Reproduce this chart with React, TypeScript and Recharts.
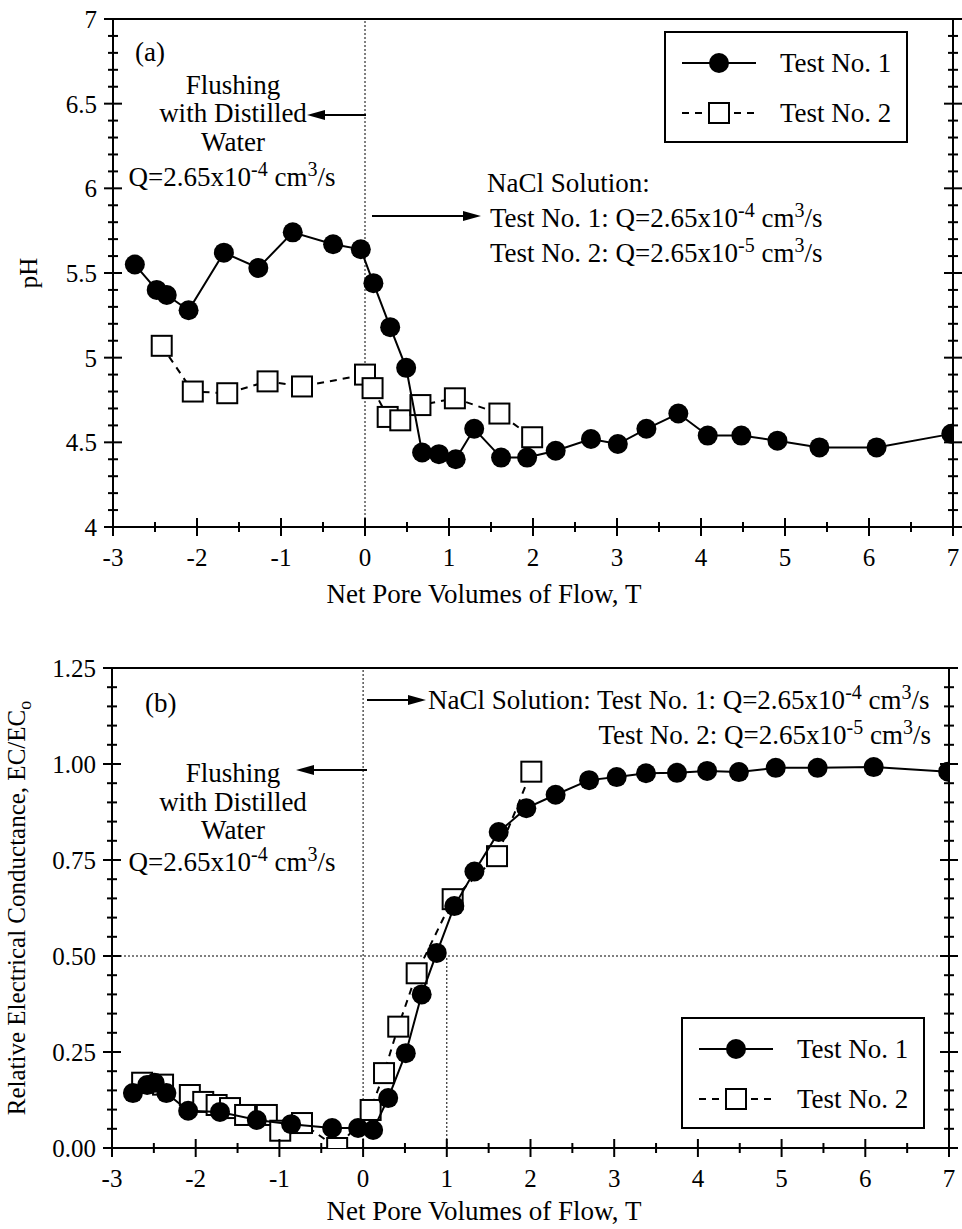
import React from "react";
import { ScatterChart, Scatter, XAxis, YAxis, ReferenceLine } from "recharts";

const FONT = '"Liberation Serif", "Times New Roman", Times, serif';

// shared x axis ticks (net pore volumes)
const xTicks = [-3, -2.5, -2, -1.5, -1, -0.5, 0, 0.5, 1, 1.5, 2, 2.5, 3, 3.5, 4, 4.5, 5, 5.5, 6, 6.5, 7];
const xMajor = [-3, -2, -1, 0, 1, 2, 3, 4, 5, 6, 7];

// (a) pH axis
const phTicks = [4, 4.1, 4.2, 4.3, 4.4, 4.5, 4.6, 4.7, 4.8, 4.9, 5, 5.1, 5.2, 5.3, 5.4, 5.5, 5.6, 5.7, 5.8, 5.9, 6, 6.1, 6.2, 6.3, 6.4, 6.5, 6.6, 6.7, 6.8, 6.9, 7];
const phMajor = [4, 4.5, 5, 5.5, 6, 6.5, 7];

// (b) EC/ECo axis
const ecTicks = [0, 0.05, 0.1, 0.15, 0.2, 0.25, 0.3, 0.35, 0.4, 0.45, 0.5, 0.55, 0.6, 0.65, 0.7, 0.75, 0.8, 0.85, 0.9, 0.95, 1, 1.05, 1.1, 1.15, 1.2, 1.25];
const ecMajor = [0, 0.25, 0.5, 0.75, 1, 1.25];

// (a) Test No. 1
const phT1x = [-2.74, -2.48, -2.36, -2.1, -1.68, -1.27, -0.86, -0.38, -0.05, 0.1, 0.3, 0.49, 0.68, 0.88, 1.08, 1.3, 1.62, 1.93, 2.27, 2.69, 3.01, 3.35, 3.73, 4.08, 4.48, 4.91, 5.41, 6.09, 6.98];
const phT1y = [5.55, 5.4, 5.37, 5.28, 5.62, 5.53, 5.74, 5.67, 5.64, 5.44, 5.18, 4.94, 4.44, 4.43, 4.4, 4.58, 4.41, 4.41, 4.45, 4.52, 4.49, 4.58, 4.67, 4.54, 4.54, 4.51, 4.47, 4.47, 4.55];
// (a) Test No. 2
const phT2x = [-2.42, -2.05, -1.64, -1.16, -0.75, 0.0, 0.09, 0.27, 0.42, 0.66, 1.07, 1.6, 1.99];
const phT2y = [5.07, 4.8, 4.79, 4.86, 4.83, 4.9, 4.82, 4.65, 4.63, 4.72, 4.76, 4.67, 4.53];

// (b) Test No. 1
const ecT1x = [-2.75, -2.58, -2.49, -2.35, -2.09, -1.71, -1.27, -0.86, -0.37, -0.06, 0.12, 0.3, 0.51, 0.7, 0.88, 1.09, 1.33, 1.62, 1.95, 2.3, 2.7, 3.03, 3.38, 3.75, 4.11, 4.49, 4.93, 5.43, 6.1, 6.99];
const ecT1y = [0.143, 0.164, 0.17, 0.143, 0.097, 0.094, 0.073, 0.062, 0.052, 0.052, 0.047, 0.13, 0.247, 0.4, 0.508, 0.63, 0.72, 0.823, 0.885, 0.92, 0.958, 0.966, 0.976, 0.977, 0.982, 0.979, 0.99, 0.99, 0.992, 0.98];
// (b) Test No. 2
const ecT2x = [-2.64, -2.39, -2.07, -1.91, -1.75, -1.59, -1.41, -1.15, -0.99, -0.73, -0.31, 0.09, 0.25, 0.42, 0.64, 1.07, 1.6, 2.01];
const ecT2y = [0.17, 0.165, 0.138, 0.12, 0.112, 0.104, 0.086, 0.086, 0.045, 0.065, 0.0, 0.099, 0.195, 0.316, 0.455, 0.648, 0.76, 0.98];

const pts = (xs: number[], ys: number[]) => xs.map((x, i) => ({ x, y: ys[i] }));

const isMajor = (v: number, majors: number[]) => majors.some((m) => Math.abs(m - v) < 1e-6);

const Dot = (p: any) => <circle cx={p.cx} cy={p.cy} r={10} fill="#000" />;
const Square = (p: any) => (
  <rect x={p.cx - 10} y={p.cy - 10} width={20} height={20} fill="#fff" stroke="#000" strokeWidth={2} />
);

const XTick = (props: any) => {
  const { x, y, payload } = props;
  const v = payload.value;
  const major = isMajor(v, xMajor);
  const h = major ? 9 : 5;
  return (
    <g>
      <line x1={x} x2={x} y1={y - h} y2={y + h} stroke="#000" strokeWidth={2} />
      {major && (
        <text x={x} y={y + 39} textAnchor="middle" fontSize={25} fontFamily={FONT} fill="#000">
          {v}
        </text>
      )}
    </g>
  );
};

const makeYTick = (majors: number[], fmt: (v: number) => string, showLabel: boolean) => (props: any) => {
  const { x, y, payload } = props;
  const v = payload.value;
  const major = isMajor(v, majors);
  const h = major ? 9 : 5;
  return (
    <g>
      <line x1={x - h} x2={x + h} y1={y} y2={y} stroke="#000" strokeWidth={2} />
      {showLabel && major && (
        <text x={x - 16} y={y + 9} textAnchor="end" fontSize={25} fontFamily={FONT} fill="#000">
          {fmt(v)}
        </text>
      )}
    </g>
  );
};

const axisLine = { stroke: "#000", strokeWidth: 2 };
const dotted = { stroke: "#000", strokeWidth: 1, strokeDasharray: "2 2" };

function Panel({
  height, top, plotH, left, right, yTicks, yMajor, yDomain, fmt, t1, t2, children,
}: any) {
  return (
    <ScatterChart width={962} height={height} margin={{ top, right: 0, bottom: 0, left: 0 }}>
      <XAxis
        type="number"
        dataKey="x"
        domain={[-3, 7]}
        ticks={xTicks}
        interval={0}
        tickLine={false}
        tickSize={0}
        tickMargin={0}
        axisLine={axisLine}
        tick={XTick}
        height={height - top - plotH}
        allowDataOverflow
      />
      <YAxis
        type="number"
        dataKey="y"
        domain={yDomain}
        ticks={yTicks}
        interval={0}
        tickLine={false}
        tickSize={0}
        tickMargin={0}
        axisLine={axisLine}
        tick={makeYTick(yMajor, fmt, true)}
        width={left}
        allowDataOverflow
      />
      <YAxis
        yAxisId="r"
        orientation="right"
        type="number"
        domain={yDomain}
        ticks={yTicks}
        interval={0}
        tickLine={false}
        tickSize={0}
        tickMargin={0}
        axisLine={axisLine}
        tick={makeYTick(yMajor, fmt, false)}
        width={right}
        allowDataOverflow
      />
      <ReferenceLine y={yDomain[1]} stroke="#000" strokeWidth={2} />
      <ReferenceLine x={0} {...dotted} />
      {children}
      <Scatter
        data={t2}
        shape={Square}
        line={{ stroke: "#000", strokeWidth: 2, strokeDasharray: "7 6" }}
        lineJointType="linear"
        isAnimationActive={false}
      />
      <Scatter
        data={t1}
        shape={Dot}
        line={{ stroke: "#000", strokeWidth: 2 }}
        lineJointType="linear"
        isAnimationActive={false}
      />
    </ScatterChart>
  );
}

const Q = ({ exp }: { exp: string }) => (
  <>
    Q=2.65x10
    <tspan dy={-10} fontSize={20}>{exp}</tspan>
    <tspan dy={10}> cm</tspan>
    <tspan dy={-10} fontSize={20}>3</tspan>
    <tspan dy={10}>/s</tspan>
  </>
);

function Legend({ x, y }: { x: number; y: number }) {
  return (
    <g>
      <rect x={x} y={y} width={242} height={110} fill="#fff" stroke="#000" strokeWidth={2} />
      <line x1={x + 17} x2={x + 91} y1={y + 31} y2={y + 31} stroke="#000" strokeWidth={2} />
      <circle cx={x + 54} cy={y + 31} r={10} fill="#000" />
      <text x={x + 115} y={y + 40} fontSize={27}>Test No. 1</text>
      <line x1={x + 17} x2={x + 91} y1={y + 81} y2={y + 81} stroke="#000" strokeWidth={2} strokeDasharray="7 6" />
      <rect x={x + 44} y={y + 71} width={20} height={20} fill="#fff" stroke="#000" strokeWidth={2} />
      <text x={x + 115} y={y + 90} fontSize={27}>Test No. 2</text>
    </g>
  );
}

export default function App() {
  return (
    <div style={{ position: "absolute", left: 0, top: 0, width: 962, height: 1229, background: "#fff" }}>
      <div style={{ position: "absolute", left: 0, top: 0 }}>
        <Panel
          height={620}
          top={19}
          plotH={508}
          left={113}
          right={9}
          yTicks={phTicks}
          yMajor={phMajor}
          yDomain={[4, 7]}
          fmt={(v: number) => String(v)}
          t1={pts(phT1x, phT1y)}
          t2={pts(phT2x, phT2y)}
        />
      </div>
      <div style={{ position: "absolute", left: 0, top: 620 }}>
        <Panel
          height={609}
          top={48}
          plotH={480}
          left={112}
          right={13}
          yTicks={ecTicks}
          yMajor={ecMajor}
          yDomain={[0, 1.25]}
          fmt={(v: number) => v.toFixed(2)}
          t1={pts(ecT1x, ecT1y)}
          t2={pts(ecT2x, ecT2y)}
        >
          <ReferenceLine y={0.5} {...dotted} />
          <ReferenceLine segment={[{ x: 1, y: 0 }, { x: 1, y: 0.5 }]} {...dotted} />
        </Panel>
      </div>
      <svg
        width={962}
        height={1229}
        style={{ position: "absolute", left: 0, top: 0, pointerEvents: "none" }}
        fontFamily={FONT}
        fill="#000"
      >
        {/* panel (a) */}
        <text x={135} y={61} fontSize={27}>(a)</text>
        <text textAnchor="middle" fontSize={27}>
          <tspan x={233} y={94}>Flushing</tspan>
          <tspan x={233} y={122}>with Distilled</tspan>
          <tspan x={233} y={151}>Water</tspan>
        </text>
        <text x={232} y={186} textAnchor="middle" fontSize={27}><Q exp="-4" /></text>
        <line x1={366} x2={318} y1={115} y2={115} stroke="#000" strokeWidth={2} />
        <polygon points="307,115 325,110 325,120" />
        <line x1={372} x2={468} y1={216} y2={216} stroke="#000" strokeWidth={2} />
        <polygon points="481,216 463,211 463,221" />
        <text x={487} y={192} fontSize={27}>NaCl Solution:</text>
        <text x={490} y={227} fontSize={27}>Test No. 1: <Q exp="-4" /></text>
        <text x={490} y={262} fontSize={27}>Test No. 2: <Q exp="-5" /></text>
        <Legend x={665} y={32} />
        <text x={484} y={603} textAnchor="middle" fontSize={27}>Net Pore Volumes of Flow, T</text>
        <text x={37} y={273} textAnchor="middle" fontSize={25} transform="rotate(-90 37 273)">pH</text>

        {/* panel (b) */}
        <text x={145} y={712} fontSize={27}>(b)</text>
        <line x1={367} x2={414} y1={700} y2={700} stroke="#000" strokeWidth={2} />
        <polygon points="426,700 408,695 408,705" />
        <text x={428} y={709} fontSize={27}>NaCl Solution: Test No. 1: <Q exp="-4" /></text>
        <text x={931} y={744} textAnchor="end" fontSize={27}>Test No. 2: <Q exp="-5" /></text>
        <line x1={367} x2={308} y1={770} y2={770} stroke="#000" strokeWidth={2} />
        <polygon points="296,770 314,765 314,775" />
        <text textAnchor="middle" fontSize={27}>
          <tspan x={233} y={782}>Flushing</tspan>
          <tspan x={233} y={811}>with Distilled</tspan>
          <tspan x={233} y={839}>Water</tspan>
        </text>
        <text x={232} y={871} textAnchor="middle" fontSize={27}><Q exp="-4" /></text>
        <Legend x={682} y={1018} />
        <text x={484} y={1220} textAnchor="middle" fontSize={27}>Net Pore Volumes of Flow, T</text>
        <text x={25} y={908} textAnchor="middle" fontSize={25} transform="rotate(-90 25 908)">
          Relative Electrical Conductance, EC/EC<tspan dy={6} fontSize={18}>o</tspan>
        </text>
      </svg>
    </div>
  );
}
